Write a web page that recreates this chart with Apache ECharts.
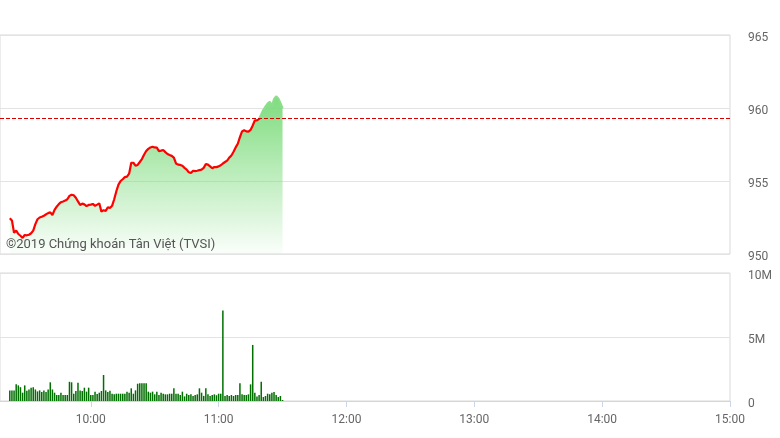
<!DOCTYPE html>
<html><head><meta charset="utf-8">
<script src="https://cdn.jsdelivr.net/npm/echarts@6.0.0/dist/echarts.min.js"></script>
<style>html,body{margin:0;padding:0;background:#fff}#c{width:780px;height:438px}</style>
</head><body><div id="c"></div>
<script>
// first minute of data: 09:22, one point per minute
const startMinute = 9 * 60 + 22;
const prices = [
  952.45, 952.30, 951.45, 951.60, 951.37, 951.25, 951.10, 951.30, 951.28, 951.32,
  951.42, 951.60, 952.05, 952.38, 952.50, 952.55, 952.62, 952.72, 952.80, 952.85,
  952.67, 953.02, 953.24, 953.42, 953.55, 953.60, 953.66, 953.75, 953.98, 954.06,
  954.02, 953.85, 953.60, 953.36, 953.45, 953.40, 953.28, 953.36, 953.38, 953.43,
  953.30, 953.38, 953.47, 952.90, 953.00, 952.95, 953.20, 953.15, 953.30, 953.75,
  954.30, 954.75, 955.00, 955.12, 955.27, 955.30, 955.50, 956.25, 956.25, 956.05,
  956.10, 956.30, 956.50, 956.80, 957.05, 957.20, 957.30, 957.35, 957.30, 957.28,
  957.05, 957.08, 957.12, 956.98, 956.85, 956.78, 956.72, 956.60, 956.20, 956.12,
  956.10, 956.04, 955.90, 955.78, 955.60, 955.55, 955.70, 955.68, 955.70, 955.75,
  955.78, 955.90, 956.16, 956.12, 956.00, 955.87, 955.96, 955.95, 956.00, 956.08,
  956.20, 956.30, 956.40, 956.60, 956.75, 957.00, 957.30, 957.55, 958.00, 958.40,
  958.48, 958.40, 958.38, 958.50, 958.80, 959.15, 959.15, 959.25, 959.55, 959.86,
  960.10, 960.30, 960.43, 960.15, 960.60, 960.80, 960.65, 960.35, 959.98
];
// volume in millions of shares
const volumesM = [
  0.83, 0.83, 0.83, 1.30, 1.22, 1.08, 0.65, 1.22, 0.80, 0.90,
  1.04, 1.07, 0.90, 0.75, 0.83, 0.70, 0.83, 0.70, 0.90, 1.46,
  0.90, 0.65, 0.47, 0.47, 0.65, 0.47, 0.47, 0.47, 1.50, 1.46,
  0.57, 0.78, 1.43, 0.83, 0.78, 1.04, 0.73, 1.04, 0.47, 0.47,
  0.73, 0.55, 0.65, 0.78, 2.03, 0.83, 0.70, 0.80, 0.57, 0.52,
  0.57, 0.57, 0.57, 0.57, 0.57, 0.73, 0.65, 0.99, 0.57, 0.83,
  1.35, 1.38, 1.38, 1.38, 1.38, 0.73, 0.65, 0.73, 0.52, 0.73,
  0.47, 0.65, 0.57, 0.52, 0.52, 0.57, 0.57, 0.99, 0.57, 0.57,
  0.47, 0.73, 0.36, 0.57, 0.47, 0.52, 0.39, 0.47, 0.52, 0.99,
  0.65, 0.40, 0.99, 0.52, 0.39, 0.47, 0.52, 0.45, 0.57, 0.57,
  7.08, 0.39, 0.47, 0.39, 0.47, 0.39, 0.47, 0.47, 1.38, 0.52,
  0.47, 0.47, 0.52, 1.30, 4.38, 0.65, 0.36, 0.47, 1.51, 0.31,
  0.39, 0.57, 0.52, 0.65, 0.70, 0.47, 0.31, 0.39, 0.08
];
const refPrice = 959.28;
const priceTicks = [950, 955, 960, 965];
const volumeTicks = [0, 5, 10];
// time axis in minutes since midnight; visible window starts a little after 09:17
const timeMin = 557.4, timeMax = 900;
const timeTicks = [600, 660, 720, 780, 840, 900];
const watermark = '©2019 Chứng khoán Tân Việt (TVSI)';

const fmtTime = m => String(Math.floor(m / 60)).padStart(2, '0') + ':' + String(Math.round(m % 60)).padStart(2, '0');
const priceData = prices.map((v, i) => [startMinute + i, v]);
const volumeData = volumesM.map((v, i) => [startMinute + i, v]);

const chart = echarts.init(document.getElementById('c'), null, { renderer: 'canvas' });
const labelStyle = { color: '#666', fontFamily: 'Roboto', fontSize: 12 };
const richY = { t: { color: '#666', fontFamily: 'Roboto', fontSize: 12, padding: [5, 0, 0, 0] } };
chart.setOption({
  animation: false,
  backgroundColor: '#fff',
  grid: [
    { left: 0, right: 50, top: 35, height: 219, show: true, borderColor: '#d9d9d9', borderWidth: 1, backgroundColor: 'transparent' },
    { left: 0, right: 50, top: 273, height: 128, show: true, borderColor: '#d9d9d9', borderWidth: 1, backgroundColor: 'transparent' }
  ],
  xAxis: [
    { type: 'value', gridIndex: 0, min: timeMin, max: timeMax, show: false, splitLine: { show: false } },
    { type: 'value', gridIndex: 1, min: timeMin, max: timeMax,
      axisLine: { show: true, lineStyle: { color: '#ccd6eb' } },
      axisTick: { show: true, length: 6, customValues: timeTicks, lineStyle: { color: '#ccd6eb' } },
      splitLine: { show: false },
      axisLabel: Object.assign({ margin: 13, customValues: timeTicks, formatter: v => fmtTime(v) }, labelStyle) }
  ],
  yAxis: [
    { type: 'value', gridIndex: 0, position: 'right', min: priceTicks[0], max: priceTicks[priceTicks.length - 1], interval: priceTicks[1] - priceTicks[0],
      axisLine: { show: false }, axisTick: { show: false },
      splitLine: { lineStyle: { color: '#e3e3e3' } },
      axisLabel: Object.assign({ margin: 18, rich: richY, formatter: v => '{t|' + v + '}' }, labelStyle) },
    { type: 'value', gridIndex: 1, position: 'right', min: volumeTicks[0], max: volumeTicks[volumeTicks.length - 1], interval: volumeTicks[1] - volumeTicks[0],
      axisLine: { show: false }, axisTick: { show: false },
      splitLine: { lineStyle: { color: '#e3e3e3' } },
      axisLabel: Object.assign({ margin: 18, rich: richY, formatter: v => '{t|' + (v === 0 ? '0' : v + 'M') + '}' }, labelStyle) }
  ],
  visualMap: {
    show: false, type: 'piecewise', seriesIndex: 0, dimension: 1,
    pieces: [{ gt: 900, lte: refPrice, color: '#ff0000' }, { gt: refPrice, lte: 1000, color: '#8adf8a' }]
  },
  series: [
    { type: 'line', xAxisIndex: 0, yAxisIndex: 0, data: priceData, showSymbol: false, symbol: 'none',
      lineStyle: { width: 2.2 },
      areaStyle: { origin: 'start', opacity: 1,
        color: new echarts.graphic.LinearGradient(0, 0, 0, 1, [
          { offset: 0, color: 'rgba(120,218,120,0.95)' },
          { offset: 1, color: 'rgba(120,218,120,0.03)' }
        ]) },
      markLine: { silent: true, symbol: 'none', label: { show: false },
        lineStyle: { color: '#d40000', type: [4, 2], width: 1 },
        data: [{ yAxis: refPrice }] },
      z: 3
    },
    { type: 'bar', xAxisIndex: 1, yAxisIndex: 1, data: volumeData, barWidth: 1.5,
      itemStyle: { color: '#006f00' } }
  ],
  graphic: [
    { type: 'text', left: 6, top: 238, z: 100, silent: true,
      style: { text: watermark, fill: '#555', font: '13px Roboto' } }
  ]
});
</script>
</body></html>
